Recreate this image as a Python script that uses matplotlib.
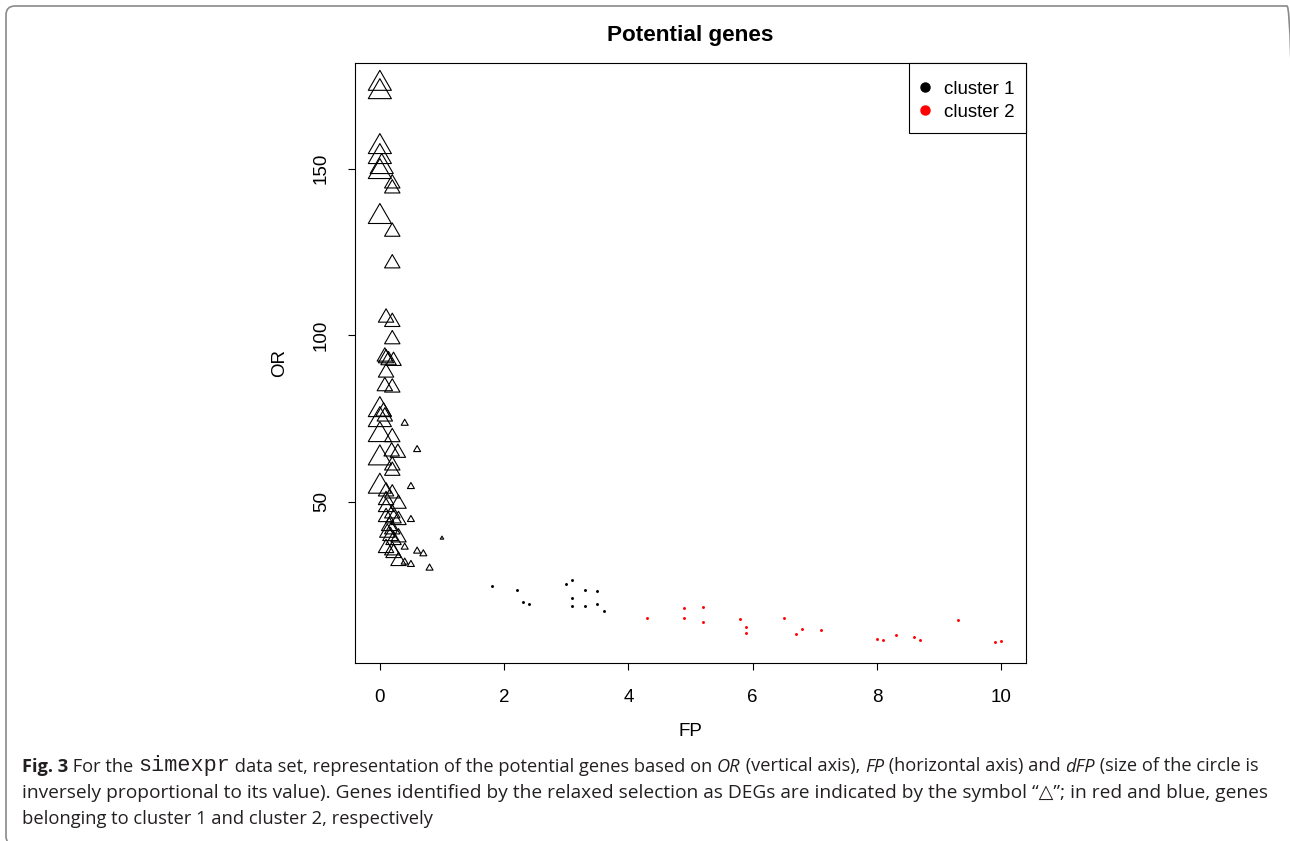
import matplotlib
matplotlib.use("Agg")
import matplotlib.pyplot as plt
import numpy as np
from matplotlib.path import Path
from matplotlib.patches import FancyBboxPatch, Rectangle
from matplotlib.transforms import IdentityTransform

# ---------------- data ----------------
# DEG triangles (relaxed selection): FP, OR, dFP
tri_fp = [0.00, 0.00, 0.00, 0.00, 0.03, 0.00, 0.00, 0.00, 0.00, 0.00, 0.00, 0.00,
          0.20, 0.20, 0.20, 0.20, 0.10, 0.20, 0.20, 0.08, 0.10, 0.14, 0.22, 0.10,
          0.08, 0.20, 0.06, 0.08, 0.20, 0.19, 0.29, 0.20, 0.20, 0.10, 0.20, 0.10,
          0.30, 0.10, 0.10, 0.20, 0.22, 0.30, 0.15, 0.20, 0.12, 0.17, 0.30, 0.22,
          0.10, 0.20, 0.22, 0.30,
          0.40, 0.60, 0.50, 0.50, 0.40, 0.60, 0.70, 0.40, 0.50, 0.80,
          1.00]
tri_or = [175.5, 173.0, 156.5, 153.5, 150.5, 149.0, 135.5, 77.5, 74.5, 70.0, 63.0, 54.5,
          145.5, 144.0, 131.0, 121.5, 105.2, 103.9, 98.7, 93.5, 93.0, 92.4, 92.2, 88.7,
          84.6, 84.2, 77.0, 75.5, 69.3, 65.0, 64.6, 60.8, 59.2, 53.0, 52.4, 50.4,
          49.3, 48.3, 45.3, 46.4, 44.9, 44.4, 42.6, 41.6, 40.6, 39.6, 39.2, 38.4,
          36.0, 35.3, 34.5, 32.1,
          73.5, 65.6, 54.5, 44.6, 36.3, 35.1, 34.3, 31.8, 31.1, 30.0,
          39.0]
tri_dfp = [1.0] * 12 + [1.5] * 40 + [3.3] * 10 + [6.6]

# non-DEG genes
c1_fp = [1.8, 2.2, 2.3, 2.4, 3.0, 3.1, 3.3, 3.5, 3.1, 3.1, 3.3, 3.5, 3.6]
c1_or = [24.6, 23.3, 19.7, 19.1, 25.1, 26.5, 23.5, 23.1, 21.0, 18.7, 18.7, 19.3, 17.2]
c2_fp = [4.3, 4.9, 4.9, 5.2, 5.2, 5.8, 5.9, 5.9, 6.5, 6.7, 6.8, 7.1,
         8.0, 8.1, 8.3, 8.6, 8.7, 9.3, 9.9, 10.0]
c2_or = [14.9, 17.9, 15.0, 18.3, 13.8, 14.8, 12.2, 10.6, 15.1, 10.3, 11.7, 11.3,
         8.7, 8.3, 9.9, 9.4, 8.5, 14.4, 7.7, 8.2]

legend_labels = ["cluster 1", "cluster 2"]
legend_colors = ["black", "red"]
x_ticks = [0, 2, 4, 6, 8, 10]
y_ticks = [50, 100, 150]

# ---------------- figure ----------------
W, H = 1290, 841
fig = plt.figure(figsize=(W / 100, H / 100), dpi=100)
fig.patch.set_facecolor("white")

L, R, T, B = 355, 1026, 63, 663
AW, AH = R - L, B - T
ax = fig.add_axes([L / W, 1 - B / H, AW / W, AH / H])
base = "Liberation Sans"
fs = 13.5

# equilateral triangle marker centred on centroid (R pch=2)
tri_marker = Path([(0, 1), (-0.866, -0.5), (0.866, -0.5), (0, 1)],
                  [Path.MOVETO, Path.LINETO, Path.LINETO, Path.CLOSEPOLY])
K = 19.2
ms = K / np.asarray(tri_dfp)
ax.scatter(tri_fp, tri_or, s=ms ** 2, marker=tri_marker, facecolors="none",
           edgecolors="black", linewidths=0.8, zorder=3)
ax.scatter(c1_fp, c1_or, s=4.5, marker="o", color="black", linewidths=0, zorder=3)
ax.scatter(c2_fp, c2_or, s=4.5, marker="o", color="red", linewidths=0, zorder=3)

ax.set_xlim(-0.4, 10.4)
ax.set_ylim(1.5, 181.7)
ax.set_xticks(x_ticks)
ax.set_yticks(y_ticks)
ax.set_xticklabels([str(v) for v in x_ticks], fontfamily=base, fontsize=fs)
ax.set_yticklabels([str(v) for v in y_ticks], fontfamily=base, fontsize=fs,
                   rotation=90, va="center")
ax.tick_params(axis="both", direction="out", length=5, width=0.8, color="black")
ax.tick_params(axis="x", pad=14)
ax.tick_params(axis="y", pad=13)
for sp in ax.spines.values():
    sp.set_linewidth(0.8)
    sp.set_color("black")

ax.set_xlabel("FP", fontfamily=base, fontsize=fs)
ax.set_ylabel("OR", fontfamily=base, fontsize=fs)
ax.xaxis.set_label_coords(0.5, (B - 732) / AH)
ax.xaxis.label.set_va("center")
ax.yaxis.set_label_coords((280 - L) / AW, 0.5)
ax.yaxis.label.set_va("center")
ax.set_title("Potential genes", fontfamily=base, fontsize=16.2, fontweight="bold", pad=16)

# legend box (R style), positioned in axes fraction
lx0, ly0 = (909 - L) / AW, 1 - (133 - T) / AH
ax.add_patch(Rectangle((lx0, ly0), 1 - lx0, 1 - ly0, transform=ax.transAxes,
                       facecolor="white", edgecolor="black", linewidth=0.8, zorder=5,
                       clip_on=False))
row_px = [87, 110]
for lab, c, yp in zip(legend_labels, legend_colors, row_px):
    ax.plot([(925 - L) / AW], [1 - (yp - T) / AH], marker="o", markersize=6.5, color=c,
            transform=ax.transAxes, zorder=6, clip_on=False, linestyle="none")
    ax.text((944 - L) / AW, 1 - (yp + 6.7 - T) / AH, lab, transform=ax.transAxes,
            fontfamily=base, fontsize=fs, va="baseline", ha="left", zorder=6)

# ---------------- outer rounded frame ----------------
frame = FancyBboxPatch((6, -4), 1290, 841 - 6 + 4, boxstyle="round,pad=0,rounding_size=9",
                       transform=IdentityTransform(), facecolor="none",
                       edgecolor="#8a8a8a", linewidth=1.2)
fig.add_artist(frame)

# ---------------- caption ----------------
renderer = fig.canvas.get_renderer()
col = "#231f20"
REG = dict(family=["Open Sans", "DejaVu Sans"])
BOLD = dict(family=["Open Sans", "DejaVu Sans"], weight="bold")
ITA = dict(family=["Open Sans", "DejaVu Sans"], style="italic")
MONO = dict(family=["Liberation Mono", "DejaVu Sans Mono"], scale=1.2)

lines = [
    [("Fig. 3", BOLD), (" For the ", REG), ("simexpr", MONO),
     (" data set, representation of the potential genes based on ", REG), ("OR", ITA),
     (" (vertical axis), ", REG), ("FP", ITA), (" (horizontal axis) and ", REG),
     ("dFP", ITA), (" (size of the circle is", REG)],
    [("inversely proportional to its value). Genes identified by the relaxed selection as "
      "DEGs are indicated by the symbol \u201c\u25b3\u201d; in red and blue, genes", REG)],
    [("belonging to cluster 1 and cluster 2, respectively", REG)],
]
baselines = [771.5, 797.5, 823.5]
targets = [1252 - 22, 1258 - 22, 432 - 22]


def props_of(p, size):
    q = dict(p)
    sc = q.pop("scale", 1.0)
    return q, size * sc


def advance(s, p, size):
    q, sz = props_of(p, size)
    t1 = fig.text(0, 0, "|" + s + "|", fontsize=sz, **q)
    t2 = fig.text(0, 0, "||", fontsize=sz, **q)
    w = t1.get_window_extent(renderer).width - t2.get_window_extent(renderer).width
    t1.remove()
    t2.remove()
    return w


ref = 12.0
for pieces, yb, tw in zip(lines, baselines, targets):
    w = sum(advance(s, p, ref) for s, p in pieces)
    size = ref * tw / w
    x = 22.0
    for s, p in pieces:
        q, sz = props_of(p, size)
        fig.text(x, H - yb, s, fontsize=sz, color=col, ha="left", va="baseline",
                 transform=IdentityTransform(), **q)
        x += advance(s, p, size)

fig.savefig("out.png", dpi=100, facecolor="white")
